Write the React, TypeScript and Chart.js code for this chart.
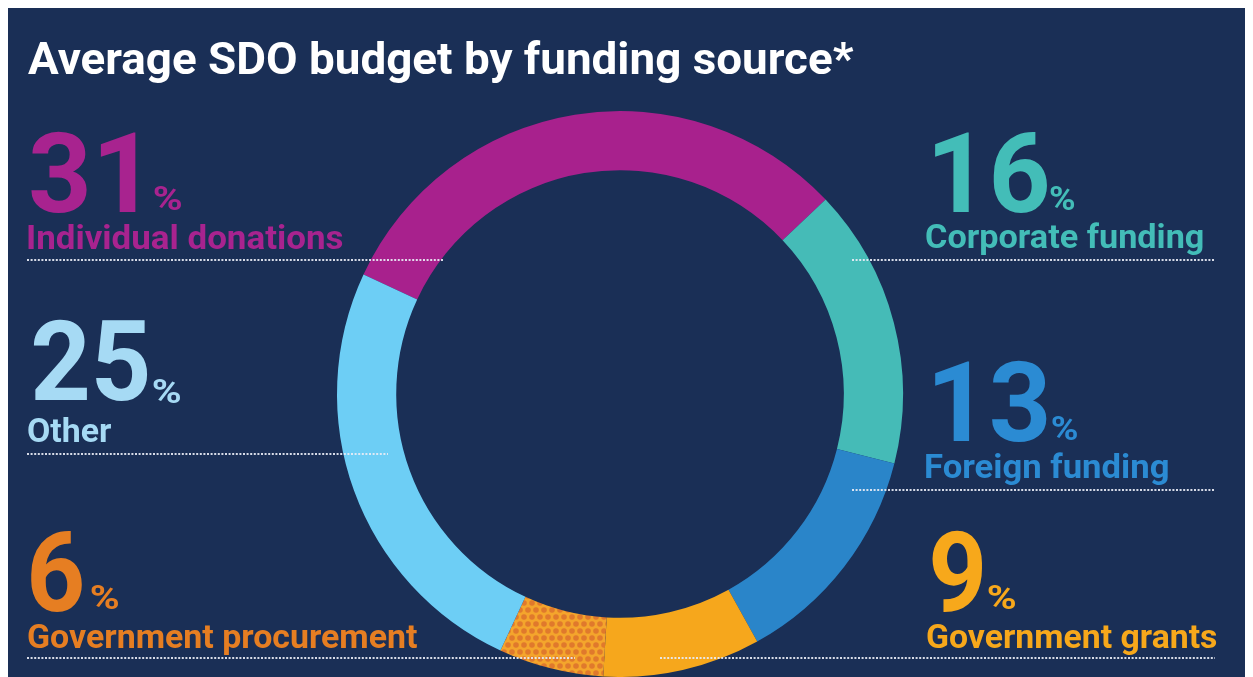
import React, { useEffect, useRef } from "react";
import { Chart, registerables } from "chart.js";

Chart.register(...registerables);

// ---------- data ----------
const TITLE = "Average SDO budget by funding source*";
const categories = [
  "Individual donations",
  "Corporate funding",
  "Foreign funding",
  "Government grants",
  "Government procurement",
  "Other",
];
const shares = [31, 16, 13, 9, 6, 25];
const ringColors = ["#a8218d", "#45bbb7", "#2a85c9", "#f6a71c", "#f4a52c", "#6dcef5"];
const textColors = ["#a8238f", "#43bdb8", "#2b8bd3", "#f7a81b", "#e67e22", "#a6daf4"];

// ---------- layout (page px) ----------
const BG = "#1a2f56";
const W = 1245;
const H = 669;
const O = 8; // body margin offset
const FONT = "Roboto, 'Noto Sans', sans-serif";

type L = {
  num: [number, number, number]; // left, right, baseline
  pct: [number, number, number];
  lbl: [number, number, number];
  line: [number, number, number]; // x0, x1, y
};
const LAYOUT: L[] = [
  { num: [31, 136, 212], pct: [154, 181, 210], lbl: [28, 343, 249], line: [27, 443, 260] },
  { num: [935, 1047, 212], pct: [1050, 1074, 210], lbl: [926, 1203, 248], line: [852, 1215, 260] },
  { num: [935, 1047, 441], pct: [1052, 1077, 440], lbl: [926, 1168, 478], line: [852, 1215, 490] },
  { num: [932, 982, 611], pct: [988, 1015, 609], lbl: [927, 1217, 648], line: [660, 1215, 658] },
  { num: [31, 82, 611], pct: [91, 118, 609], lbl: [28, 417, 648], line: [27, 575, 658] },
  { num: [33, 148, 400], pct: [153, 180, 403], lbl: [28, 112, 442], line: [27, 388, 454] },
];

function drawFit(
  ctx: CanvasRenderingContext2D,
  text: string,
  left: number,
  right: number,
  base: number,
  size: number,
  color: string
) {
  ctx.save();
  ctx.font = `700 ${size}px ${FONT}`;
  ctx.textBaseline = "alphabetic";
  ctx.textAlign = "left";
  const m = ctx.measureText(text);
  const bl = m.actualBoundingBoxLeft || 0;
  const vis = bl + (m.actualBoundingBoxRight || m.width);
  const s = (right - left) / vis;
  ctx.translate(left - O + bl * s, base - O);
  ctx.scale(s, 1);
  ctx.fillStyle = color;
  ctx.fillText(text, 0, 0);
  ctx.restore();
}

const overlay = {
  id: "overlay",
  afterDraw(chart: any) {
    const ctx: CanvasRenderingContext2D = chart.ctx;
    drawFit(ctx, TITLE, 28, 854, 74, 45, "#ffffff");
    categories.forEach((name, i) => {
      const l = LAYOUT[i];
      const c = textColors[i];
      drawFit(ctx, String(shares[i]), l.num[0], l.num[1], l.num[2], 111, c);
      drawFit(ctx, "%", l.pct[0], l.pct[1], l.pct[2], 33, c);
      drawFit(ctx, name, l.lbl[0], l.lbl[1], l.lbl[2], 34, c);
      ctx.save();
      ctx.setLineDash([2, 1.6]);
      ctx.lineWidth = 2;
      ctx.strokeStyle = "rgba(232,236,244,0.92)";
      ctx.beginPath();
      ctx.moveTo(l.line[0] - O, l.line[2] - O);
      ctx.lineTo(l.line[1] - O, l.line[2] - O);
      ctx.stroke();
      ctx.restore();
    });
  },
};

function makeDots(ctx: CanvasRenderingContext2D, base: string) {
  const c = document.createElement("canvas");
  c.width = 8;
  c.height = 14;
  const g = c.getContext("2d")!;
  g.fillStyle = base;
  g.fillRect(0, 0, 8, 14);
  g.fillStyle = "#e0792c";
  const dots = [
    [0, 0], [8, 0], [0, 14], [8, 14], [4, 7],
  ];
  for (const [x, y] of dots) {
    g.beginPath();
    g.arc(x, y, 2.8, 0, Math.PI * 2);
    g.fill();
  }
  return ctx.createPattern(c, "repeat");
}

export default function App() {
  const ref = useRef<HTMLCanvasElement>(null);
  useEffect(() => {
    const canvas = ref.current!;
    const ctx = canvas.getContext("2d")!;
    const bg: any[] = ringColors.slice();
    bg[4] = makeDots(ctx, ringColors[4]);
    const chart = new Chart(canvas, {
      type: "doughnut",
      data: {
        labels: categories,
        datasets: [
          {
            data: shares,
            backgroundColor: bg,
            borderWidth: 0,
            hoverOffset: 0,
          },
        ],
      },
      options: {
        animation: false,
        responsive: false,
        rotation: -65,
        radius: 283,
        cutout: 223,
        layout: { padding: { left: 330, right: 351, top: 104, bottom: 1 } },
        plugins: {
          legend: { display: false },
          tooltip: { enabled: false },
          title: { display: false },
        },
        events: [],
      },
      plugins: [overlay],
    });
    return () => chart.destroy();
  }, []);
  return (
    <div style={{ width: W, height: H, background: BG, position: "relative", overflow: "hidden" }}>
      <canvas ref={ref} width={W} height={H} style={{ display: "block", width: W, height: H }} />
    </div>
  );
}
